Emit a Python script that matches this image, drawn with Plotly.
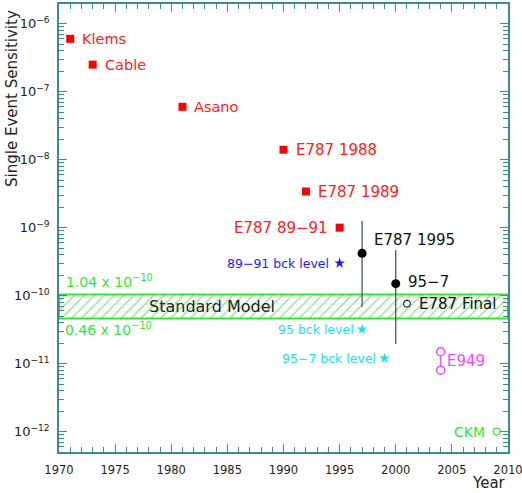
import plotly.graph_objects as go
import numpy as np

# ---------------- data ----------------
red_names = ["Klems", "Cable", "Asano", "E787 1988", "E787 1989", "E787 89\u221291"]
red_years = [1971, 1973, 1981, 1990, 1992, 1995]
red_sens = [6.0e-7, 2.5e-7, 6.0e-8, 1.4e-8, 3.4e-9, 1.0e-9]

blk_names = ["E787 1995", "95\u22127"]
blk_years = [1997, 2000]
blk_sens = [4.2e-10, 1.5e-10]
blk_err_hi = [1.25e-9, 4.7e-10]
blk_err_lo = [6.8e-11, 1.95e-11]

final_name = "E787 Final"
final_year = 2001
final_sens = 7.6e-11

bck_names = ["89\u221291 bck level", "95 bck level", "95\u22127 bck level"]
bck_years = [1995, 1997, 1999]
bck_sens = [3.0e-10, 3.2e-11, 1.2e-11]
bck_colors = ["#1a1aff", "#22e0f0", "#22e0f0"]

e949_year = 2004
e949_range = [1.5e-11, 8.0e-12]

ckm_year = 2009
ckm_sens = 1.0e-12

sm_hi = 1.04e-10
sm_lo = 0.46e-10

x_ticks = [1970, 1975, 1980, 1985, 1990, 1995, 2000, 2005, 2010]
y_exps = [-12, -11, -10, -9, -8, -7, -6]

# ---------------- figure ----------------
AX = "#3c8c8c"
GREEN = "#33e633"
FONT = "DejaVu Sans"

fig = go.Figure()

# Standard model band (hatched)
fig.add_trace(go.Scatter(
    x=[x_ticks[0], x_ticks[-1], x_ticks[-1], x_ticks[0], x_ticks[0]],
    y=[sm_hi, sm_hi, sm_lo, sm_lo, sm_hi],
    mode="lines", fill="toself",
    line=dict(color=GREEN, width=2),
    fillcolor="rgba(0,0,0,0)",
    fillpattern=dict(shape="/", fgcolor="#22cc22", bgcolor="white", size=7, solidity=0.2),
    hoverinfo="skip", showlegend=False,
))

# red squares
fig.add_trace(go.Scatter(
    x=red_years, y=red_sens, mode="markers",
    marker=dict(symbol="square", size=8, color="#ff0000"),
    showlegend=False,
))

# black points with error bars
fig.add_trace(go.Scatter(
    x=blk_years, y=blk_sens, mode="markers",
    marker=dict(symbol="circle", size=9, color="black"),
    error_y=dict(type="data", symmetric=False,
                 array=[h - v for h, v in zip(blk_err_hi, blk_sens)],
                 arrayminus=[v - l for l, v in zip(blk_err_lo, blk_sens)],
                 width=0, thickness=1.2, color="#2f4f4f"),
    showlegend=False,
))

# E787 final
fig.add_trace(go.Scatter(
    x=[final_year], y=[final_sens], mode="markers",
    marker=dict(symbol="circle-open", size=7, color="black", line=dict(width=1)),
    showlegend=False,
))

# background level stars
fig.add_trace(go.Scatter(
    x=bck_years, y=bck_sens, mode="markers",
    marker=dict(symbol="star", size=8, color=bck_colors),
    showlegend=False,
))

# E949 range
fig.add_trace(go.Scatter(
    x=[e949_year, e949_year], y=e949_range, mode="lines+markers",
    line=dict(color="#ff44ff", width=1.2),
    marker=dict(symbol="circle", size=8, color="white", line=dict(color="#ff44ff", width=1.5)),
    showlegend=False,
))

# CKM
fig.add_trace(go.Scatter(
    x=[ckm_year], y=[ckm_sens], mode="markers",
    marker=dict(symbol="circle-open", size=7, color=GREEN, line=dict(width=1.2)),
    showlegend=False,
))

ann = []
def lab(x, y, text, color, size, xanchor, xshift=0, yshift=0):
    ann.append(dict(x=x, y=np.log10(y), xref="x", yref="y", text=text,
                    showarrow=False, xanchor=xanchor, yanchor="middle",
                    xshift=xshift, yshift=yshift,
                    font=dict(family=FONT, size=size, color=color)))

for i, (n, xv, yv) in enumerate(zip(red_names, red_years, red_sens)):
    if i == len(red_names) - 1:
        lab(xv, yv, n, "#ff2020", 15, "right", xshift=-10)
    else:
        lab(xv, yv, n, "#ff2020", 15 if i > 2 else 14.5, "left", xshift=10)

lab(blk_years[0], blk_sens[0], blk_names[0], "#111111", 15, "left", xshift=10, yshift=13)
lab(blk_years[1], blk_sens[1], blk_names[1], "#111111", 15, "left", xshift=10, yshift=2)
lab(final_year, final_sens, final_name, "#111111", 15, "left", xshift=10)

lab(bck_years[0], bck_sens[0], bck_names[0], bck_colors[0], 12.5, "right", xshift=-9)
lab(bck_years[1], bck_sens[1], bck_names[1], bck_colors[1], 12.5, "right", xshift=-6)
lab(bck_years[2], bck_sens[2], bck_names[2], bck_colors[2], 12.5, "right", xshift=-7)

ann.append(dict(x=e949_year, y=(np.log10(e949_range[0]) + np.log10(e949_range[1])) / 2,
                xref="x", yref="y", text="E949", showarrow=False, xanchor="left",
                yanchor="middle", xshift=4,
                font=dict(family=FONT, size=15, color="#ff44ff")))
lab(ckm_year, ckm_sens, "CKM", GREEN, 14, "right", xshift=-10)

lab(1970, sm_hi, "1.04 x 10<sup>\u221210</sup>", GREEN, 14, "left", xshift=5, yshift=13)
lab(1970, sm_lo, "0.46 x 10<sup>\u221210</sup>", GREEN, 14, "left", xshift=4, yshift=-10)
ann.append(dict(x=1983.6, y=(np.log10(sm_hi) + np.log10(sm_lo)) / 2, xref="x", yref="y",
                text="Standard Model", showarrow=False, xanchor="center", yanchor="middle",
                font=dict(family=FONT, size=16, color="#222222")))

ann.append(dict(x=-0.105, y=0.79, xref="paper", yref="paper", text="Single Event Sensitivity",
                textangle=-90, showarrow=False, xanchor="center", yanchor="middle",
                font=dict(family=FONT, size=15, color="#222222")))
ann.append(dict(x=1.0, y=-0.07, xref="paper", yref="paper", text="Year",
                showarrow=False, xanchor="right", yanchor="middle",
                font=dict(family=FONT, size=15, color="#222222")))

minor_y = [m * 10.0 ** e for e in range(-13, -5) for m in range(2, 10)]

fig.update_layout(
    width=522, height=493,
    margin=dict(l=59, r=14, t=4, b=41, autoexpand=False),
    paper_bgcolor="white", plot_bgcolor="white",
    annotations=ann,
    xaxis=dict(range=[1970, 2010], tickmode="array", tickvals=x_ticks,
               ticks="inside", ticklen=8, tickcolor=AX, tickwidth=1,
               showline=True, linecolor=AX, linewidth=1.5, mirror="ticks",
               showgrid=False, zeroline=False, automargin=False,
               ticklabeloverflow="allow",
               minor=dict(dtick=1, ticks="inside", ticklen=5, tickcolor=AX, showgrid=False),
               tickfont=dict(family=FONT, size=11.5, color="#222222"),
               ticklabelstandoff=6),
    yaxis=dict(type="log", range=[-12.3, -5.71], tickmode="array",
               tickvals=[10.0 ** e for e in y_exps],
               ticktext=["10<sup>\u2212%d</sup>" % (-e) for e in y_exps],
               ticks="inside", ticklen=8, tickcolor=AX, tickwidth=1,
               showline=True, linecolor=AX, linewidth=1.5, mirror="ticks",
               showgrid=False, zeroline=False, automargin=False,
               minor=dict(tickmode="array", tickvals=minor_y, ticks="inside",
                          ticklen=5, tickcolor=AX, showgrid=False),
               tickfont=dict(family=FONT, size=13, color="#222222"),
               ticklabelstandoff=5),
)

fig.write_html("out.html", config={"displayModeBar": False},
               post_script="document.body.style.margin='0';")
